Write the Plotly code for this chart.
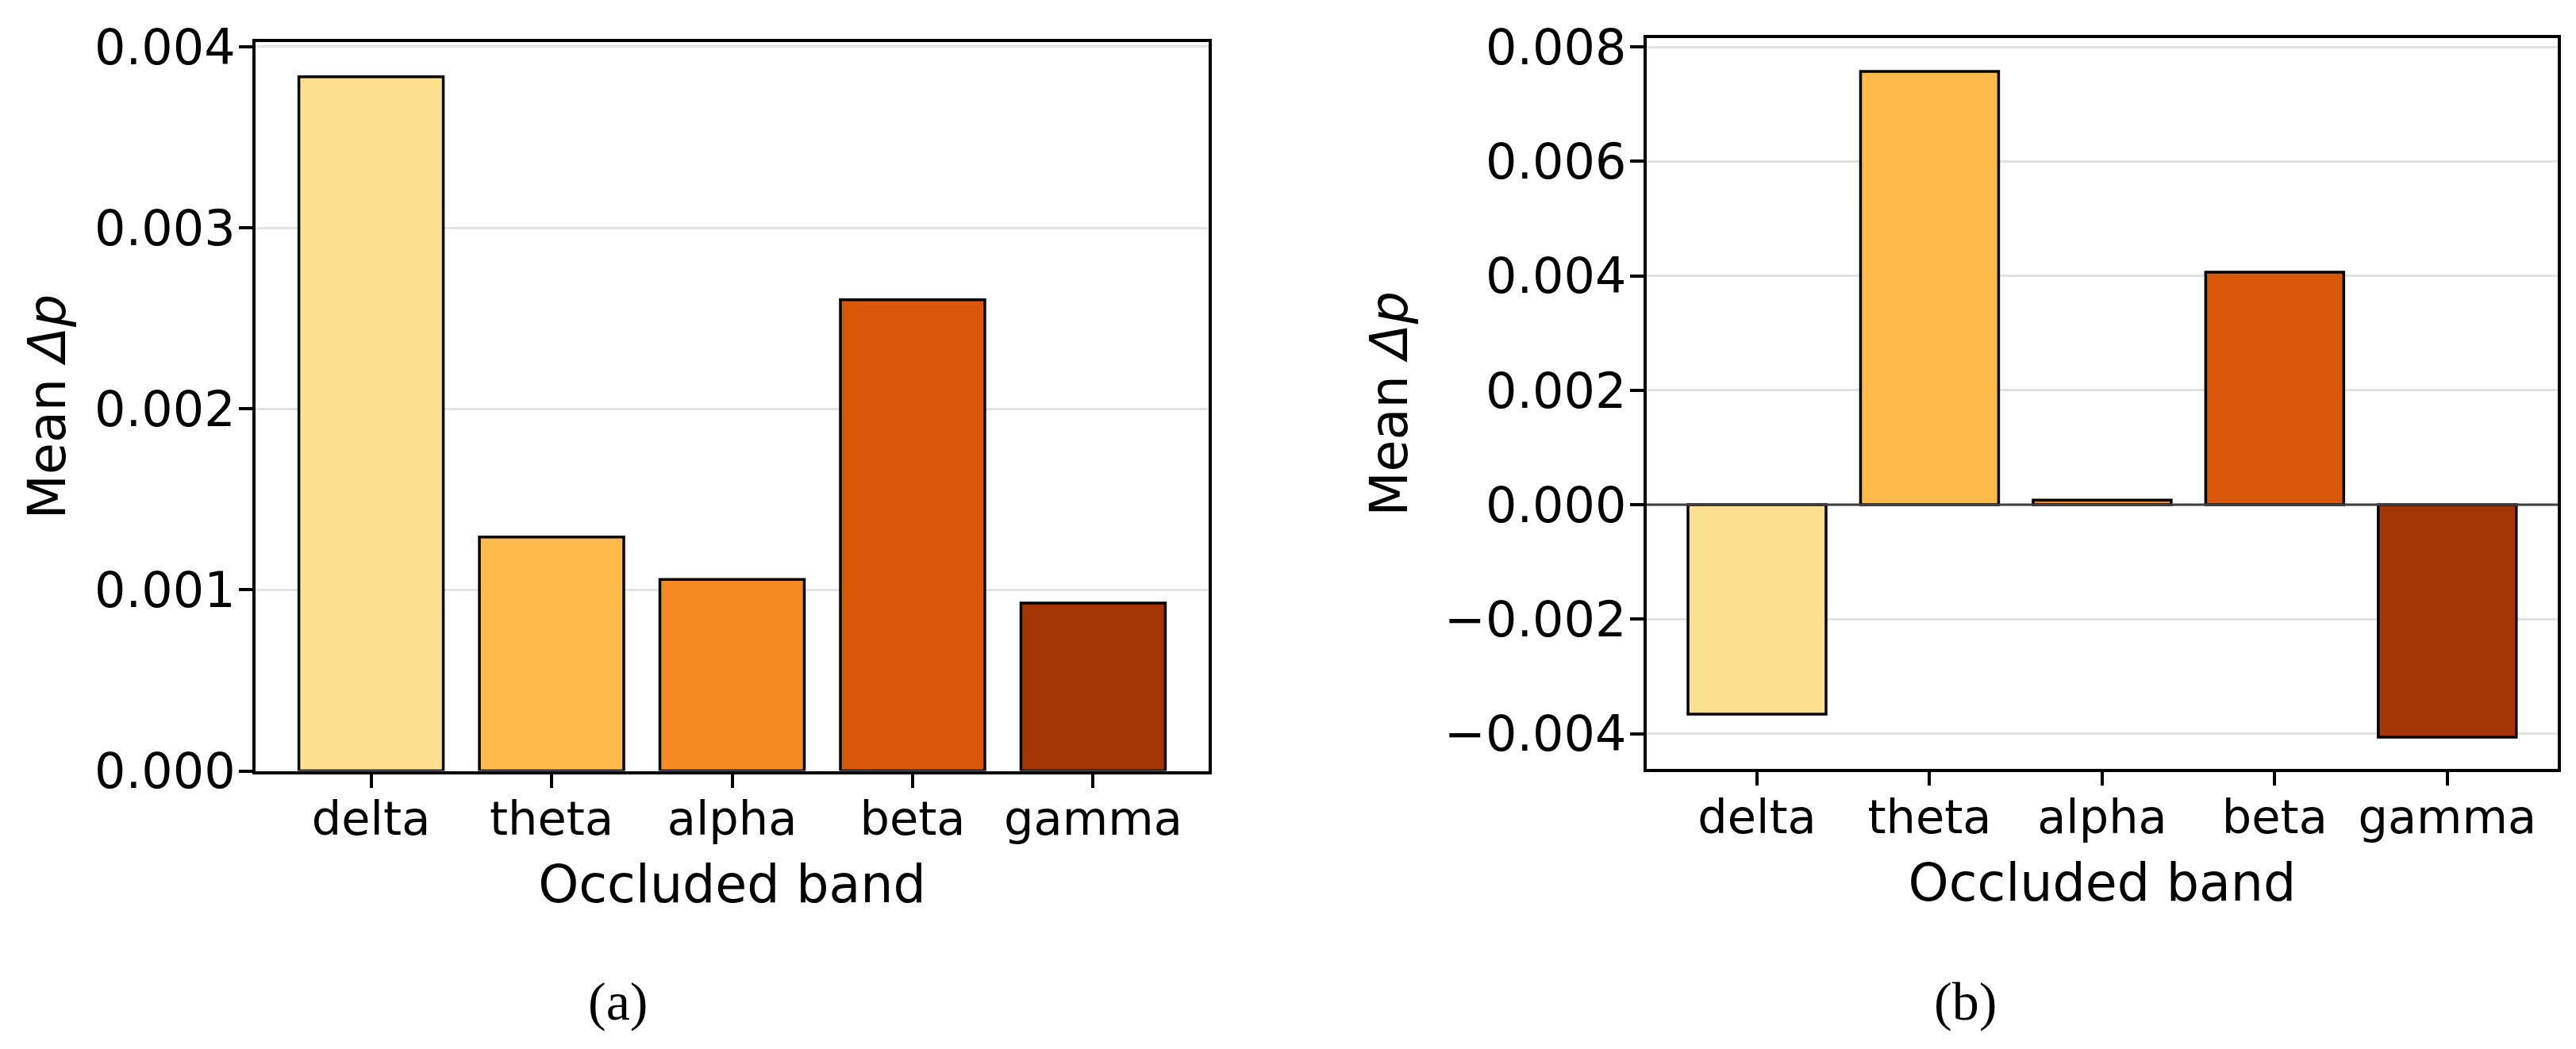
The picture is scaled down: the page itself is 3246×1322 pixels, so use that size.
import plotly.graph_objects as go

bands = ["delta", "theta", "alpha", "beta", "gamma"]
colors = ["#FDE08F", "#FEBA4A", "#F48A21", "#D95709", "#A33604"]
mean_dp_a = [0.003835, 0.001292, 0.001058, 0.002603, 0.000927]
mean_dp_b = [-0.00366, 0.00757, 0.00008, 0.004063, -0.00406]

ticks_a = [0.0, 0.001, 0.002, 0.003, 0.004]
ticktext_a = ["0.000", "0.001", "0.002", "0.003", "0.004"]
ticks_b = [-0.004, -0.002, 0.0, 0.002, 0.004, 0.006, 0.008]
ticktext_b = ["\u22120.004", "\u22120.002", "0.000", "0.002", "0.004", "0.006", "0.008"]

FONT = "DejaVu Sans"
XTICK = 59
YTICK = 62
TITLE = 65

fig = go.Figure()
fig.add_trace(go.Bar(x=bands, y=mean_dp_a, width=0.8,
                     marker=dict(color=colors, line=dict(color="black", width=3.5)),
                     xaxis="x", yaxis="y", showlegend=False))
fig.add_trace(go.Bar(x=bands, y=mean_dp_b, width=0.8,
                     marker=dict(color=colors, line=dict(color="black", width=3.5)),
                     xaxis="x2", yaxis="y2", showlegend=False))

common_x = dict(type="category", range=[-0.64, 4.64], showline=True, linecolor="black",
                linewidth=4, mirror=True, ticks="outside", ticklen=17, tickwidth=4,
                tickcolor="black", showgrid=False, zeroline=False, automargin=False,
                ticklabelstandoff=-11,
                tickfont=dict(family=FONT, size=XTICK, color="black"),
                title=dict(text="Occluded band", font=dict(family=FONT, size=TITLE, color="black"),
                           standoff=27))
common_y = dict(showline=True, linecolor="black", linewidth=4, mirror=True,
                ticks="outside", ticklen=17, tickwidth=4, tickcolor="black",
                showgrid=True, gridcolor="#E3E3E3", gridwidth=2.5, zeroline=False,
                automargin=False, ticklabelstandoff=-8,
                tickfont=dict(family=FONT, size=YTICK, color="black"))

fig.update_layout(
    template="none",
    width=3246, height=1322,
    margin=dict(l=0, r=0, t=0, b=0, pad=0),
    paper_bgcolor="white", plot_bgcolor="white",
    bargap=0.2,
    xaxis=dict(common_x, domain=[0.0992, 0.4692], anchor="y"),
    yaxis=dict(common_y, domain=[0.2651, 0.9597], anchor="x", range=[0, 0.004025],
               tickvals=ticks_a, ticktext=ticktext_a,
               title=dict(text="Mean <i>\u0394p</i>", font=dict(family=FONT, size=TITLE, color="black"),
                          standoff=16)),
    xaxis2=dict(common_x, domain=[0.6392, 0.9929], anchor="y2"),
    yaxis2=dict(common_y, domain=[0.2668, 0.9635], anchor="x2", range=[-0.00462, 0.00815],
                tickvals=ticks_b, ticktext=ticktext_b,
                title=dict(text="Mean <i>\u0394p</i>", font=dict(family=FONT, size=TITLE, color="black"),
                           standoff=26)),
    shapes=[dict(type="line", xref="x2 domain", yref="y2", x0=0, x1=1, y0=0, y1=0,
                 line=dict(color="#404040", width=3), layer="above")],
    annotations=[
        dict(text="(a)", x=778 / 3246, y=1 - 1262 / 1322, xref="paper", yref="paper",
             showarrow=False, font=dict(family="Liberation Serif", size=68, color="black"),
             xanchor="center", yanchor="middle"),
        dict(text="(b)", x=2476 / 3246, y=1 - 1262 / 1322, xref="paper", yref="paper",
             showarrow=False, font=dict(family="Liberation Serif", size=68, color="black"),
             xanchor="center", yanchor="middle"),
    ],
)

fig.write_html("out.html")
